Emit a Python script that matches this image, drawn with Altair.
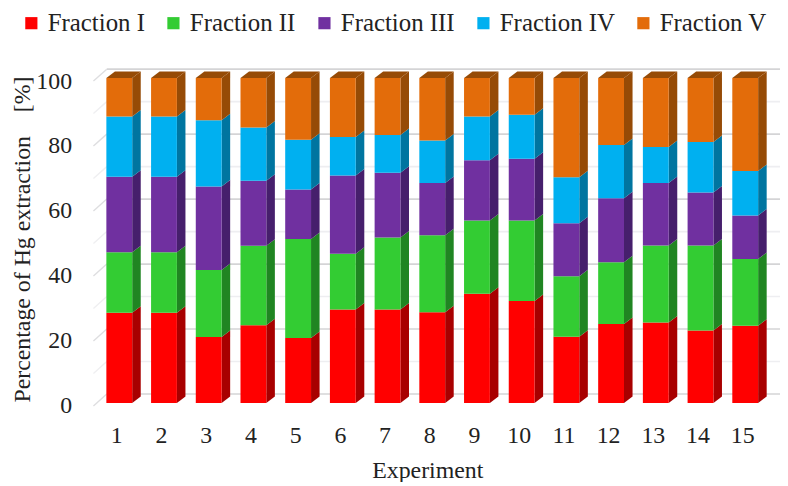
import altair as alt
import pandas as pd

experiments = list(range(1, 16))
fraction_names = ["Fraction I", "Fraction II", "Fraction III", "Fraction IV", "Fraction V"]
front_colors = ["#ff0000", "#33cc33", "#7030a0", "#00b0f0", "#e36c0a"]
side_colors = ["#a80000", "#208522", "#461f6c", "#0075a0", "#964b06"]

fraction_1 = [27.8, 27.8, 20.3, 23.9, 20.0, 28.8, 28.8, 27.9, 33.6, 31.4, 20.4, 24.3, 24.8, 22.3, 23.8]
fraction_2 = [18.6, 18.6, 20.6, 24.5, 30.5, 17.1, 22.1, 23.7, 22.6, 24.8, 18.6, 19.0, 23.7, 26.2, 20.5]
fraction_3 = [23.2, 23.2, 25.7, 20.0, 15.2, 24.1, 20.0, 16.1, 18.5, 19.0, 16.3, 19.7, 19.2, 16.3, 13.4]
fraction_4 = [18.6, 18.6, 20.4, 16.4, 15.3, 11.9, 11.6, 13.1, 13.5, 13.5, 14.2, 16.4, 11.1, 15.5, 13.7]
fraction_5 = [11.8, 11.8, 13.0, 15.2, 19.0, 18.1, 17.5, 19.2, 11.8, 11.3, 30.5, 20.6, 21.2, 19.7, 28.6]
fractions = [fraction_1, fraction_2, fraction_3, fraction_4, fraction_5]

grid_major = [0, 20, 40, 60, 80, 100]
grid_minor = [10, 30, 50, 70, 90]
y_ticks = [0, 20, 40, 60, 80, 100]

# 3-D look, in axis units
half_w = 13 / 45
depth_x = 8.6 / 45
depth_y = 2.0
wall_x0 = 0.4222
wall_x1 = 0.72
wall_x2 = 15.778
wall_dy_back = 2.75
wall_dy_front = -0.9

fronts, faces = [], []
for i, e in enumerate(experiments):
    base = 0.0
    for k, name in enumerate(fraction_names):
        top = base + fractions[k][i]
        L, R = e - half_w, e + half_w
        side = name + " side"
        fronts.append(dict(x=L, x2=R, y=base, y2=top, face=name))
        sid = f"s{e}-{k}"
        faces.append(dict(id=sid, x=R, lo=base, hi=top, face=side))
        faces.append(dict(id=sid, x=R + depth_x, lo=base + depth_y, hi=top + depth_y, face=side))
        if k == len(fraction_names) - 1:
            tid = f"t{e}"
            faces.append(dict(id=tid, x=L, lo=top, hi=top, face=side))
            faces.append(dict(id=tid, x=L + depth_x, lo=top, hi=top + depth_y, face=side))
            faces.append(dict(id=tid, x=R, lo=top, hi=top + depth_y, face=side))
            faces.append(dict(id=tid, x=R + depth_x, lo=top + depth_y, hi=top + depth_y, face=side))
        base = top

x_scale = alt.Scale(domain=[wall_x0, wall_x2], nice=False, zero=False)
y_scale = alt.Scale(domain=[0, 100], nice=False, zero=False)
domain = fraction_names + [n + " side" for n in fraction_names]
color_scale = alt.Scale(domain=domain, range=front_colors + side_colors)

FONT = "Liberation Serif"
TEXT = "#222222"

x_axis = alt.Axis(
    values=experiments, format="d", title="Experiment", domain=False, ticks=False, grid=False,
    labelFont=FONT, labelFontSize=24, labelColor=TEXT, labelPadding=21, labelOffset=-3,
    titleFont=FONT, titleFontSize=24, titleFontWeight="normal", titleColor=TEXT,
    titleX=336, titleY=56,
)
y_axis = alt.Axis(
    values=y_ticks, title="Percentage of Hg extraction \u00a0\u00a0\u00a0[%]", domain=False, ticks=False, grid=False,
    labelFont=FONT, labelFontSize=24, labelColor=TEXT, labelPadding=22, labelOffset=3,
    titleFont=FONT, titleFontSize=24, titleFontWeight="normal", titleColor=TEXT,
    titleX=-59, titleY=162,
)


def grid_layers(values, color, diag_color):
    back = pd.DataFrame([dict(x=wall_x1, x2=wall_x2, y=v + wall_dy_back) for v in values])
    diag = pd.DataFrame(
        [dict(id=v, x=wall_x0, y=v + wall_dy_front) for v in values]
        + [dict(id=v, x=wall_x1, y=v + wall_dy_back) for v in values]
    )
    rule = alt.Chart(back).mark_rule(color=color, strokeWidth=1.6).encode(
        x=alt.X("x:Q", scale=x_scale, axis=x_axis), x2="x2:Q", y=alt.Y("y:Q", scale=y_scale, axis=y_axis)
    )
    line = alt.Chart(diag).mark_line(color=diag_color, strokeWidth=1.4).encode(
        x=alt.X("x:Q", scale=x_scale, axis=x_axis),
        y=alt.Y("y:Q", scale=y_scale, axis=y_axis),
        detail="id:N",
    )
    return [rule, line]


front = alt.Chart(pd.DataFrame(fronts)).mark_rect().encode(
    x=alt.X("x:Q", scale=x_scale, axis=x_axis),
    x2="x2:Q",
    y=alt.Y("y:Q", scale=y_scale, axis=y_axis),
    y2="y2:Q",
    color=alt.Color(
        "face:N",
        scale=color_scale,
        legend=alt.Legend(
            values=fraction_names, title=None, orient="none", legendX=-75, legendY=-68,
            direction="horizontal", columns=5, columnPadding=16,
            symbolType="square", symbolSize=150, symbolStrokeWidth=0, symbolOpacity=1,
            labelFont=FONT, labelFontSize=25, labelColor=TEXT, labelOffset=4, labelLimit=200,
        ),
    ),
)

side = alt.Chart(pd.DataFrame(faces)).mark_area(interpolate="linear", opacity=1).encode(
    x=alt.X("x:Q", scale=x_scale, axis=x_axis),
    y=alt.Y("hi:Q", scale=y_scale, axis=y_axis, stack=None),
    y2="lo:Q",
    color=alt.Color("face:N", scale=color_scale),
    detail="id:N",
)

layers = (
    grid_layers(grid_minor, "#eeeef1", "#efeff1")
    + grid_layers(grid_major, "#d4d4d6", "#dedee0")
    + [side, front]
)

chart = alt.layer(*layers).properties(
    width=691,
    height=327,
    padding={"left": 86, "top": 69, "right": 0, "bottom": 78},
    autosize=alt.AutoSizeParams(type="none"),
    background="white",
).configure_view(stroke=None)

chart.save("out.html", embed_options={"renderer": "svg", "actions": False})
